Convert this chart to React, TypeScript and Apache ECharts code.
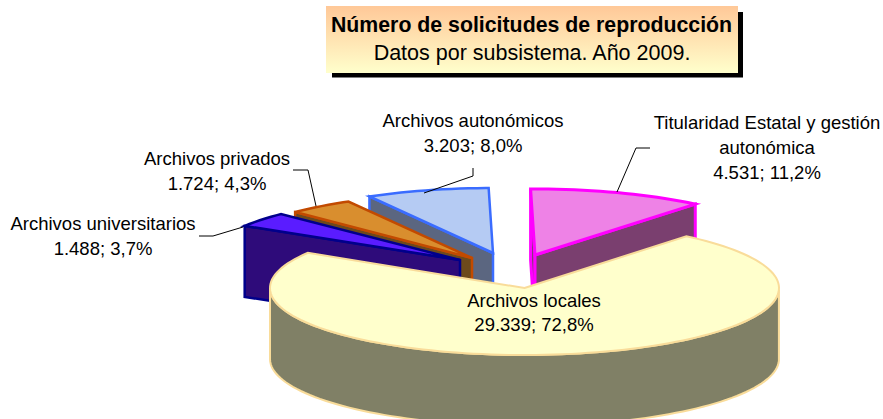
import React, { useEffect, useRef } from "react";
import * as echarts from "echarts";

// Data, clockwise from the first slice after the 12 o'clock gap
const categories = ["Titularidad Estatal y gestión\nautonómica", "Archivos locales", "Archivos universitarios", "Archivos privados", "Archivos autonómicos"];
const values = [4531, 29339, 1488, 1724, 3203];
const valueLabels = ["4.531; 11,2%", "29.339; 72,8%", "1.488; 3,7%", "1.724; 4,3%", "3.203; 8,0%"];
const titleText = "Número de solicitudes de reproducción";
const subtitleText = "Datos por subsistema. Año 2009.";

// Layout and styles (per slice, same order)
const firstAngle = 91;
const apexX = [535, 524.5, 460, 472, 493];
const apexY = [255, 288, 260, 258, 253];
const radiusX = [252, 254.5, 253, 250, 250];
const radiusY = [66, 67, 65, 65, 65];
const depth = 71;
const topColors = ["#EE82E6", "#FFFFCC", "#5A1CFF", "#D98E2E", "#B5CBF3"];
const sideColors = ["#7A3F6F", "#808066", "#2E0B7A", "#6D4A1C", "#5B6680"];
const borderColors = ["#FF00FF", "#F9DC9A", "#00008B", "#C24A00", "#3A6CFF"];
const borderWidths = [3, 2, 2.5, 2.5, 2.5];
const drawRank = [3, 4, 2, 1, 0];
const labelX = [767, 534, 103, 217, 473];
const labelY = [110, 288, 211, 146, 108];
const labelLineHeights = [25, 24, 25, 25, 25];
const leaders = [
  [[617, 192], [636, 148], [650, 148]],
  [[424, 193], [473, 176], [473, 168]],
  [[316, 206], [308, 170], [293, 170]],
  [[243, 227], [213, 236], [199, 236]],
];

const total = values.reduce((a, b) => a + b, 0);

function sliceAngles(i: number): [number, number] {
  let a = firstAngle;
  for (let k = 0; k < i; k++) a -= (values[k] / total) * 360;
  return [a, a - (values[i] / total) * 360];
}

function renderSlice(params: any, api: any) {
  const i = api.value(1);
  const [start, end] = sliceAngles(i);
  const cx = apexX[i], cy = apexY[i], rx = radiusX[i], ry = radiusY[i];
  const pt = (deg: number, dy = 0) => {
    const r = (deg * Math.PI) / 180;
    return [cx + rx * Math.cos(r), cy - ry * Math.sin(r) + dy];
  };
  const rim: number[][] = [];
  for (let d = start; d > end; d -= 2) rim.push(pt(d));
  rim.push(pt(end));

  const wall = (deg: number) => ({
    type: "polygon",
    z2: drawRank[i] * 10,
    shape: { points: [[cx, cy], pt(deg), pt(deg, depth), [cx, cy + depth]] },
    style: { fill: sideColors[i], stroke: borderColors[i], lineWidth: borderWidths[i], lineJoin: "miter" },
  });
  const children: any[] = [];
  const cos = (deg: number) => Math.cos((deg * Math.PI) / 180);
  const reflex = start - end > 180;
  if (!reflex && cos(start) < 0) children.push(wall(start));
  if (!reflex && cos(end) > 0) children.push(wall(end));

  // outer curved side: only the part of the rim that faces the viewer
  const front: number[][] = [];
  for (let d = start; d >= end; d -= 2) {
    const n = ((d % 360) + 360) % 360;
    if (n >= 180) front.push(pt(d));
  }
  if (front.length > 1) {
    const back = front.map((p) => [p[0], p[1] + depth]).reverse();
    children.push({
      type: "polygon",
      z2: drawRank[i] * 10 + 1,
      shape: { points: front.concat(back) },
      style: { fill: sideColors[i], stroke: borderColors[i], lineWidth: borderWidths[i] },
    });
  }
  children.push({
    type: "polygon",
    z2: drawRank[i] * 10 + 2,
    shape: { points: [[cx, cy], ...rim] },
    style: { fill: topColors[i], stroke: borderColors[i], lineWidth: borderWidths[i], lineJoin: "miter", miterLimit: 10 },
  });
  return { type: "group", children };
}

const FONT = '"Liberation Sans", Arial, sans-serif';

export default function App() {
  const ref = useRef<HTMLDivElement>(null);
  useEffect(() => {
    document.body.style.margin = "0";
    document.body.style.overflow = "hidden";
    const chart = echarts.init(ref.current!, null, { renderer: "svg" });
    const graphic: any[] = [
      { type: "rect", z: 1, shape: { x: 332, y: 12, width: 411, height: 65.5 }, style: { fill: "#000" } },
      {
        type: "rect",
        z: 2,
        shape: { x: 326, y: 6, width: 412, height: 67 },
        style: {
          fill: new echarts.graphic.LinearGradient(0, 0, 0, 1, [
            { offset: 0, color: "#FFC898" },
            { offset: 1, color: "#FFFFCC" },
          ]),
        },
      },
      { type: "text", z: 3, x: 531.5, y: 14, style: { text: titleText, font: `bold 21.3px ${FONT}`, fill: "#000", align: "center" } },
      { type: "text", z: 3, x: 532, y: 42, style: { text: subtitleText, font: `21.5px ${FONT}`, fill: "#000", align: "center" } },
    ];
    leaders.forEach((pts) => {
      graphic.push({ type: "polyline", z: 5, shape: { points: pts }, style: { fill: "none", stroke: "#000", lineWidth: 1 } });
    });
    categories.forEach((c, i) => {
      graphic.push({
        type: "text",
        z: 6,
        x: labelX[i],
        y: labelY[i],
        style: { text: `${c}\n${valueLabels[i]}`, font: `18.5px ${FONT}`, fill: "#000", align: "center", lineHeight: labelLineHeights[i] },
      });
    });
    chart.setOption({
      animation: false,
      backgroundColor: "#fff",
      series: [
        {
          type: "custom",
          coordinateSystem: "none",
          silent: true,
          clip: false,
          z: 4,
          renderItem: renderSlice,
          data: values.map((v, i) => [v, i]),
        },
      ],
      graphic,
    });
    return () => chart.dispose();
  }, []);
  return <div ref={ref} style={{ width: 883, height: 419 }} />;
}
